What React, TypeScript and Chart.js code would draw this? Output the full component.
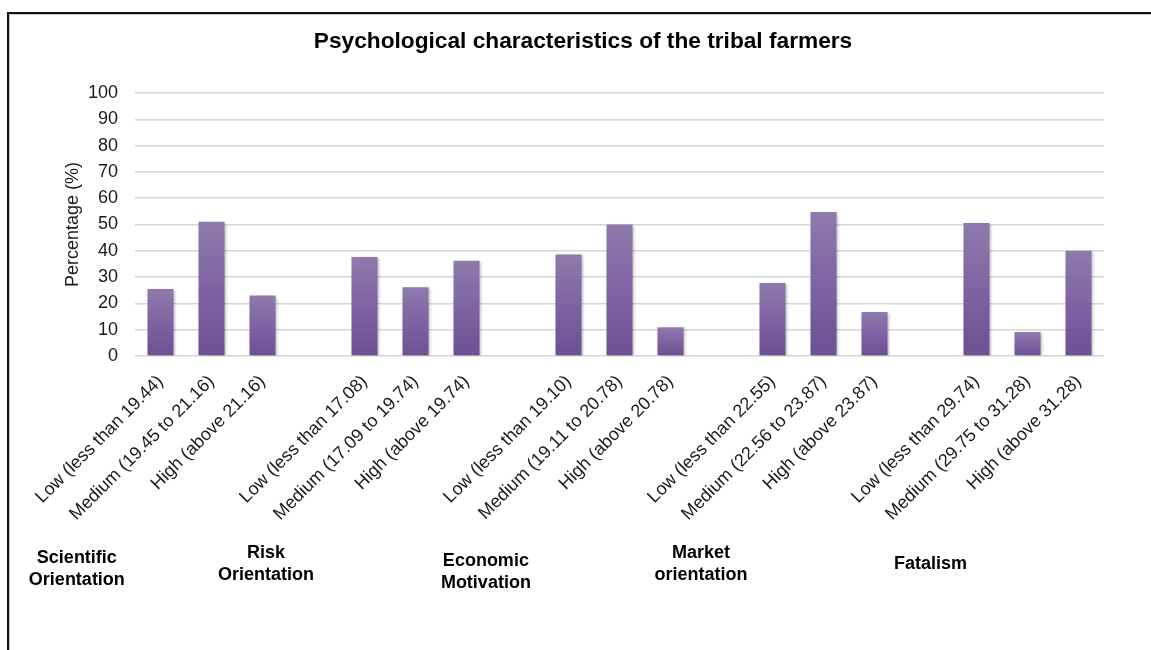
import React, { useEffect, useRef } from 'react';
import { Chart, registerables } from 'chart.js';

Chart.register(...registerables);

const FONT = '"Liberation Sans", Arial, sans-serif';
const TITLE = 'Psychological characteristics of the tribal farmers';
const Y_TITLE = 'Percentage (%)';

const categories = [
  'Low (less than 19.44)', 'Medium (19.45 to 21.16)', 'High (above 21.16)', '',
  'Low (less than 17.08)', 'Medium (17.09 to 19.74)', 'High (above 19.74)', '',
  'Low (less than 19.10)', 'Medium (19.11 to 20.78)', 'High (above 20.78)', '',
  'Low (less than 22.55)', 'Medium (22.56 to 23.87)', 'High (above 23.87)', '',
  'Low (less than 29.74)', 'Medium (29.75 to 31.28)', 'High (above 31.28)',
];

const percentages = [
  25.5, 51, 23, null,
  37.6, 26.1, 36.2, null,
  38.6, 50, 10.9, null,
  27.8, 54.8, 16.7, null,
  50.6, 9.1, 40,
];

const groupNames = [
  ['Scientific', 'Orientation'],
  ['Risk', 'Orientation'],
  ['Economic', 'Motivation'],
  ['Market', 'orientation'],
  ['Fatalism'],
];

// label placement (in category-index units and pixel rows)
const groupAnchor = [-1.64, 2.07, 6.38, 10.6, 15.1];
const groupTop = [558, 553, 561, 553, 564];

export default function App() {
  const ref = useRef<HTMLCanvasElement>(null);

  useEffect(() => {
    document.body.style.margin = '0';
    const canvas = ref.current!;

    const overlay = {
      id: 'overlay',
      beforeDatasetsDraw(chart: any) {
        const ctx = chart.ctx;
        ctx.save();
        ctx.shadowColor = 'rgba(0,0,0,0.35)';
        ctx.shadowBlur = 3;
        ctx.shadowOffsetX = 1.5;
        ctx.shadowOffsetY = 1;
      },
      afterDatasetsDraw(chart: any) {
        chart.ctx.restore();
      },
      afterDraw(chart: any) {
        const ctx = chart.ctx;
        const xs = chart.scales.x;
        const area = chart.chartArea;
        ctx.save();
        ctx.fillStyle = '#000';
        ctx.textAlign = 'center';
        ctx.textBaseline = 'middle';
        ctx.font = `bold 22.7px ${FONT}`;
        ctx.fillText(TITLE, 583, 42);

        ctx.save();
        ctx.translate(73, (area.top + area.bottom) / 2);
        ctx.rotate(-Math.PI / 2);
        ctx.font = `18px ${FONT}`;
        ctx.fillStyle = '#1a1a1a';
        ctx.fillText(Y_TITLE, 0, 0);
        ctx.restore();

        ctx.font = `bold 18px ${FONT}`;
        ctx.fillStyle = '#000';
        groupNames.forEach((lines, i) => {
          const x = xs.getPixelForValue(groupAnchor[i]);
          lines.forEach((ln, j) => {
            ctx.fillText(ln, x, groupTop[i] + j * 22.5);
          });
        });
        ctx.restore();
      },
    };

    const chart = new Chart(canvas, {
      type: 'bar',
      data: {
        labels: categories,
        datasets: [
          {
            data: percentages,
            categoryPercentage: 1,
            barPercentage: 0.51,
            backgroundColor: (c: any) => {
              const ch = c.chart;
              const ys = ch.scales && ch.scales.y;
              const v = c.raw;
              if (!ys || v == null) return '#7d60a0';
              const top = ys.getPixelForValue(v);
              const bot = ys.getPixelForValue(0);
              if (!Number.isFinite(top) || !Number.isFinite(bot) || top === bot) return '#7d60a0';
              const g = ch.ctx.createLinearGradient(0, top, 0, bot);
              g.addColorStop(0, '#8f7aac');
              g.addColorStop(0.5, '#7f62a3');
              g.addColorStop(1, '#6d5093');
              return g;
            },
          },
        ],
      },
      options: {
        responsive: false,
        animation: false,
        devicePixelRatio: 1,
        layout: { padding: { top: 93, right: 47, left: 0, bottom: 0 } },
        plugins: {
          legend: { display: false },
          tooltip: { enabled: false },
          title: { display: false },
        },
        scales: {
          x: {
            grid: { display: false },
            border: { display: false },
            ticks: {
              autoSkip: false,
              minRotation: 45,
              maxRotation: 45,
              padding: 7,
              color: '#1a1a1a',
              font: { family: FONT, size: 18 },
            },
            afterFit: (s: any) => {
              s.height = 650 - 356;
            },
          },
          y: {
            min: 0,
            max: 100,
            ticks: {
              stepSize: 10,
              padding: 17,
              color: '#1a1a1a',
              font: { family: FONT, size: 18 },
            },
            grid: { color: '#d6d6d6', lineWidth: 1.6, drawTicks: false },
            border: { display: false },
            afterFit: (s: any) => {
              s.width = 135;
            },
          },
        },
      },
      plugins: [overlay],
    } as any);
    chart.update();

    return () => chart.destroy();
  }, []);

  return (
    <div style={{ position: 'absolute', left: 0, top: 0, width: 1151, height: 650, background: '#fff' }}>
      <canvas ref={ref} width={1151} height={650} style={{ display: 'block' }} />
      <div
        style={{
          position: 'absolute',
          left: 7,
          top: 12,
          width: 1144,
          height: 638,
          borderTop: '2px solid #111',
          borderLeft: '2px solid #111',
          boxShadow: 'inset 1px 1px 0 #c8c8c8',
          boxSizing: 'border-box',
          pointerEvents: 'none',
        }}
      />
    </div>
  );
}
